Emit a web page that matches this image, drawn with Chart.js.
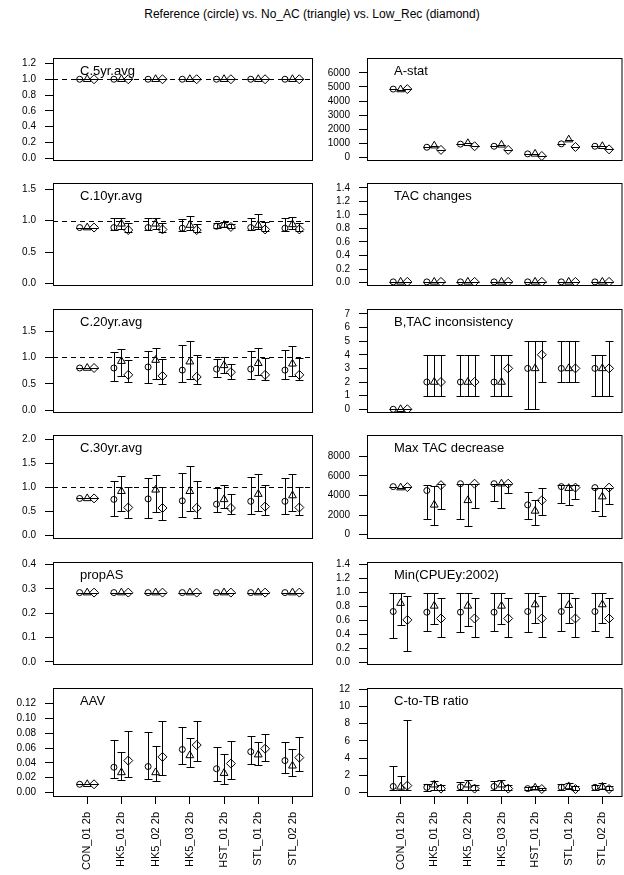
<!DOCTYPE html>
<html>
<head>
<meta charset="utf-8">
<script src="https://cdn.jsdelivr.net/npm/chart.js@4.4.1/dist/chart.umd.min.js"></script>
<style>
html, body { margin: 0; padding: 0; overflow: hidden; background: #fff; }
body { width: 624px; height: 875px; position: relative; font-family: "Liberation Sans", Arial, sans-serif; }
#title { position: absolute; top: 7px; left: 0; width: 624px; text-align: center; font-size: 12px; line-height: 14px; }
canvas { position: absolute; }
</style>
</head>
<body>
<div id="title">Reference (circle) vs. No_AC (triangle) vs. Low_Rec (diamond)</div>
<script>
const categories = ['CON_01 2b', 'HK5_01 2b', 'HK5_02 2b', 'HK5_03 2b', 'HST_01 2b', 'STL_01 2b', 'STL_02 2b'];

// values are [lo, median, hi]; a plain number means no spread
const c5Ref = [1, 1, 1, 1, 1, 1, 1];
const c5NoAC = [1, 1, 1, 1, 1, 1, 1];
const c5LowRec = [1, 1, 1, 1, 1, 1, 1];

const c10Ref = [0.89, [0.85, 0.89, 1.04], [0.85, 0.89, 1.04], [0.84, 0.88, 1.03], [0.89, 0.91, 0.96], [0.85, 0.89, 1.05], [0.84, 0.88, 1.04]];
const c10NoAC = [0.89, [0.86, 0.95, 1.05], [0.86, 0.95, 1.05], [0.85, 0.93, 1.07], [0.90, 0.93, 0.98], [0.86, 0.93, 1.10], [0.86, 0.94, 1.06]];
const c10LowRec = [0.89, [0.82, 0.85, 0.96], [0.82, 0.86, 0.97], [0.82, 0.85, 0.95], [0.88, 0.90, 0.95], [0.83, 0.86, 0.98], [0.83, 0.86, 0.97]];

const c20Ref = [0.80, [0.55, 0.80, 1.11], [0.51, 0.82, 1.13], [0.53, 0.76, 1.23], [0.63, 0.78, 0.97], [0.60, 0.78, 1.13], [0.60, 0.76, 1.14]];
const c20NoAC = [0.80, [0.65, 0.93, 1.17], [0.60, 0.95, 1.18], [0.60, 0.92, 1.32], [0.71, 0.85, 1.01], [0.67, 0.89, 1.18], [0.65, 0.88, 1.21]];
const c20LowRec = [0.80, [0.53, 0.67, 0.96], [0.49, 0.65, 0.98], [0.50, 0.63, 1.04], [0.60, 0.72, 0.87], [0.58, 0.67, 0.99], [0.58, 0.67, 0.99]];

const c30Ref = [0.77, [0.40, 0.75, 1.14], [0.36, 0.76, 1.19], [0.38, 0.72, 1.31], [0.48, 0.65, 0.98], [0.44, 0.71, 1.21], [0.44, 0.71, 1.19]];
const c30NoAC = [0.77, [0.51, 0.92, 1.23], [0.48, 0.95, 1.25], [0.50, 0.92, 1.44], [0.57, 0.75, 1.05], [0.51, 0.86, 1.29], [0.51, 0.83, 1.29]];
const c30LowRec = [0.77, [0.36, 0.58, 1.00], [0.32, 0.57, 1.00], [0.36, 0.57, 1.13], [0.44, 0.57, 0.86], [0.43, 0.60, 1.04], [0.43, 0.58, 1.00]];

const propRef = [0.285, 0.285, 0.285, 0.285, 0.285, 0.285, 0.285];
const propNoAC = [0.285, 0.285, 0.285, 0.285, 0.285, 0.285, 0.285];
const propLowRec = [0.285, 0.285, 0.285, 0.285, 0.285, 0.285, 0.285];

const aavRef = [0.011, [0.019, 0.034, 0.071], [0.018, 0.035, 0.082], [0.038, 0.058, 0.088], [0.015, 0.032, 0.061], [0.038, 0.055, 0.076], [0.026, 0.043, 0.068]];
const aavNoAC = [0.011, [0.017, 0.027, 0.055], [0.015, 0.027, 0.063], [0.034, 0.050, 0.074], [0.012, 0.026, 0.052], [0.037, 0.051, 0.068], [0.022, 0.036, 0.059]];
const aavLowRec = [0.011, [0.021, 0.043, 0.083], [0.023, 0.048, 0.096], [0.043, 0.064, 0.097], [0.018, 0.039, 0.070], [0.042, 0.059, 0.079], [0.029, 0.047, 0.075]];

const aRef = [4850, 730, 950, 800, 260, 970, 800];
const aNoAC = [4820, 840, 1010, 900, 260, 1270, 800];
const aLowRec = [4850, 540, 800, 540, 110, 750, 580];

const tacRef = [0.01, 0.01, 0.01, 0.01, 0.01, 0.01, 0.01];
const tacNoAC = [0.01, 0.01, 0.01, 0.01, 0.01, 0.01, 0.01];
const tacLowRec = [0.01, 0.01, 0.01, 0.01, 0.01, 0.01, 0.01];

const bRef = [0, [1, 2, 4], [1, 2, 4], [1, 2, 4], [0, 3, 5], [2, 3, 5], [1, 3, 4]];
const bNoAC = [0, [1, 2, 4], [1, 2, 4], [1, 2, 4], [0, 3, 5], [2, 3, 5], [1, 3, 4]];
const bLowRec = [0, [1, 2, 4], [1, 2, 4], [1, 3, 4], [2, 4, 5], [2, 3, 5], [1, 3, 5]];

const mRef = [4900, [1640, 4500, 5115], [1550, 5200, 5200], [3410, 5200, 5200], [1550, 3040, 4400], [3190, 4900, 5115], [2420, 4800, 4800]];
const mNoAC = [4800, [1020, 3040, 4960], [870, 3500, 5200], [2730, 5200, 5200], [1020, 2420, 3570], [2980, 4740, 5050], [1860, 3880, 4800]];
const mLowRec = [4850, [2630, 5050, 5200], [2730, 5200, 5200], [4220, 5200, 5200], [2015, 3500, 4740], [3660, 4800, 5115], [3100, 4800, 4800]];

const minRef = [[0.35, 0.73, 1.0], [0.45, 0.72, 1.0], [0.43, 0.72, 1.0], [0.45, 0.72, 1.0], [0.43, 0.73, 1.0], [0.45, 0.73, 1.0], [0.45, 0.73, 1.0]];
const minNoAC = [[0.53, 0.85, 1.0], [0.55, 0.81, 1.0], [0.52, 0.81, 1.0], [0.55, 0.81, 1.0], [0.56, 0.83, 1.0], [0.57, 0.82, 1.0], [0.57, 0.83, 1.0]];
const minLowRec = [[0.16, 0.61, 0.95], [0.37, 0.63, 0.93], [0.37, 0.63, 0.93], [0.37, 0.63, 0.93], [0.36, 0.63, 0.95], [0.36, 0.63, 0.93], [0.36, 0.63, 0.93]];

const ctRef = [[0.25, 0.7, 3.1], [0.2, 0.6, 1.0], [0.25, 0.65, 1.2], [0.25, 0.7, 1.3], [0.3, 0.45, 0.6], [0.3, 0.6, 1.0], [0.3, 0.6, 0.9]];
const ctNoAC = [[0.25, 0.65, 1.9], [0.3, 0.9, 1.3], [0.3, 0.9, 1.4], [0.3, 0.9, 1.4], [0.35, 0.55, 0.7], [0.35, 0.7, 1.15], [0.35, 0.65, 1.05]];
const ctLowRec = [[0.25, 0.8, 8.4], [0.25, 0.45, 0.9], [0.25, 0.45, 0.9], [0.25, 0.45, 0.9], [0.3, 0.4, 0.55], [0.25, 0.4, 0.8], [0.25, 0.4, 0.8]];

// panel list: title, series, y range, tick max/step, decimals, dashed reference line
const panels = [
  { col: 0, row: 0, title: 'C.5yr.avg', s: [c5Ref, c5NoAC, c5LowRec], min: -0.023, max: 1.269, tMax: 1.2, step: 0.2, dec: 1, ref: 1 },
  { col: 0, row: 1, title: 'C.10yr.avg', s: [c10Ref, c10NoAC, c10LowRec], min: -0.025, max: 1.60, tMax: 1.5, step: 0.5, dec: 1, ref: 1 },
  { col: 0, row: 2, title: 'C.20yr.avg', s: [c20Ref, c20NoAC, c20LowRec], min: -0.035, max: 1.92, tMax: 1.5, step: 0.5, dec: 1, ref: 1 },
  { col: 0, row: 3, title: 'C.30yr.avg', s: [c30Ref, c30NoAC, c30LowRec], min: -0.057, max: 2.095, tMax: 2.0, step: 0.5, dec: 1, ref: 1 },
  { col: 0, row: 4, title: 'propAS', s: [propRef, propNoAC, propLowRec], min: -0.009, max: 0.411, tMax: 0.4, step: 0.1, dec: 1 },
  { col: 0, row: 5, title: 'AAV', s: [aavRef, aavNoAC, aavLowRec], min: -0.0048, max: 0.141, tMax: 0.12, step: 0.02, dec: 2 },
  { col: 1, row: 0, title: 'A-stat', s: [aRef, aNoAC, aLowRec], min: -174, max: 7052, tMax: 6000, step: 1000, dec: 0 },
  { col: 1, row: 1, title: 'TAC changes', s: [tacRef, tacNoAC, tacLowRec], min: -0.036, max: 1.471, tMax: 1.4, step: 0.2, dec: 1 },
  { col: 1, row: 2, title: 'B,TAC inconsistency', s: [bRef, bNoAC, bLowRec], min: -0.2, max: 7.36, tMax: 7, step: 1, dec: 0 },
  { col: 1, row: 3, title: 'Max TAC decrease', s: [mRef, mNoAC, mLowRec], min: -344, max: 10170, tMax: 8000, step: 2000, dec: 0 },
  { col: 1, row: 4, title: 'Min(CPUEy:2002)', s: [minRef, minNoAC, minLowRec], min: -0.022, max: 1.439, tMax: 1.4, step: 0.2, dec: 1 },
  { col: 1, row: 5, title: 'C-to-TB ratio', s: [ctRef, ctNoAC, ctLowRec], min: -0.41, max: 12.14, tMax: 12, step: 2, dec: 0 }
];

const boxTops = [53, 178, 304, 430, 557, 683];
const boxBottoms = [165, 290, 417, 543, 669, 796];
const colLeft = [0, 316];
const colWidth = [320, 312];
const axisWidth = [53, 51];
const colPadRight = [7, 0];
const shapes = ['circle', 'triangle', 'rectRot'];
const radii = [3, 4.5, 4.5];
const offsets = [-0.22, 0, 0.2];
const FONT = '"Liberation Sans", Arial, sans-serif';

// whiskers with caps, drawn under the symbols
const errorBars = {
  id: 'errorBars',
  beforeDatasetsDraw(chart) {
    const ctx = chart.ctx, ys = chart.scales.y;
    ctx.save();
    ctx.strokeStyle = '#000';
    ctx.lineWidth = 1;
    chart.data.datasets.forEach((ds, di) => {
      chart.getDatasetMeta(di).data.forEach((pt, i) => {
        const d = ds.data[i];
        const x = Math.round(pt.x) + 0.5;
        const yl = Math.round(ys.getPixelForValue(d.lo)) + 0.5;
        const yh = Math.round(ys.getPixelForValue(d.hi)) + 0.5;
        ctx.beginPath();
        ctx.moveTo(x, yl); ctx.lineTo(x, yh);
        ctx.moveTo(x - 4, yl); ctx.lineTo(x + 4, yl);
        ctx.moveTo(x - 4, yh); ctx.lineTo(x + 4, yh);
        ctx.stroke();
      });
    });
    ctx.restore();
  }
};

// box, dashed line at 1 and panel label
const frame = {
  id: 'frame',
  beforeDatasetsDraw(chart, args, opts) {
    if (opts.ref == null) return;
    const { ctx, chartArea: a } = chart;
    const y = Math.round(chart.scales.y.getPixelForValue(opts.ref)) + 0.5;
    ctx.save();
    ctx.strokeStyle = '#000';
    ctx.lineWidth = 1;
    ctx.setLineDash([5, 4]);
    ctx.beginPath();
    ctx.moveTo(a.left, y); ctx.lineTo(a.right, y);
    ctx.stroke();
    ctx.restore();
  },
  afterDraw(chart, args, opts) {
    const { ctx, chartArea: a } = chart;
    ctx.save();
    ctx.strokeStyle = '#000';
    ctx.lineWidth = 1;
    ctx.strokeRect(a.left + 0.5, a.top + 0.5, a.right - a.left - 1, a.bottom - a.top);
    ctx.fillStyle = '#000';
    ctx.font = '13px ' + FONT;
    ctx.textBaseline = 'middle';
    ctx.fillText(opts.label, a.left + 27, a.top + 13);
    ctx.restore();
  }
};

panels.forEach(p => {
  const bottomRow = p.row === 5;
  const top = boxTops[p.row] - 10;
  const height = bottomRow ? 875 - top : boxBottoms[p.row] - boxTops[p.row] + 20;
  const cv = document.createElement('canvas');
  cv.width = colWidth[p.col];
  cv.height = height;
  cv.style.left = colLeft[p.col] + 'px';
  cv.style.top = top + 'px';
  document.body.appendChild(cv);

  const datasets = p.s.map((vals, si) => ({
    label: ['Reference', 'No_AC', 'Low_Rec'][si],
    data: vals.map((v, i) => {
      const t = Array.isArray(v) ? v : [v, v, v];
      return { x: i + 1 + offsets[si], y: t[1], lo: t[0], hi: t[2] };
    }),
    pointStyle: shapes[si],
    pointRadius: radii[si],
    pointBorderColor: '#000',
    pointBackgroundColor: 'rgba(0,0,0,0)',
    pointBorderWidth: 1,
    showLine: false
  }));

  const yTicks = [];
  for (let v = 0; v <= p.tMax + 1e-9; v += p.step) yTicks.push({ value: +v.toFixed(6) });

  new Chart(cv, {
    type: 'scatter',
    data: { datasets },
    options: {
      responsive: false,
      animation: false,
      events: [],
      layout: { padding: { top: 10, bottom: bottomRow ? 0 : 10, left: 0, right: colPadRight[p.col] } },
      plugins: {
        legend: { display: false },
        tooltip: { enabled: false },
        frame: { label: p.title, ref: p.ref }
      },
      scales: {
        x: {
          type: 'linear',
          min: 0,
          max: 7.6,
          display: bottomRow,
          afterBuildTicks: s => { s.ticks = categories.map((c, i) => ({ value: i + 1 })); },
          afterFit: s => { if (bottomRow) s.height = 79; },
          grid: { drawOnChartArea: false, drawTicks: true, tickLength: 8, color: '#000' },
          border: { display: false },
          ticks: {
            autoSkip: false,
            minRotation: 90,
            maxRotation: 90,
            padding: 8,
            color: '#000',
            font: { family: FONT, size: 11 },
            callback: v => categories[Math.round(v) - 1]
          }
        },
        y: {
          min: p.min,
          max: p.max,
          afterBuildTicks: s => { s.ticks = yTicks.slice(); },
          afterFit: s => { s.width = axisWidth[p.col]; },
          grid: { drawOnChartArea: false, drawTicks: true, tickLength: 8, color: '#000' },
          border: { display: false },
          ticks: {
            padding: 9,
            color: '#000',
            font: { family: FONT, size: 10 },
            callback: v => v.toFixed(p.dec)
          }
        }
      }
    },
    plugins: [errorBars, frame]
  });
});
</script>
</body>
</html>
